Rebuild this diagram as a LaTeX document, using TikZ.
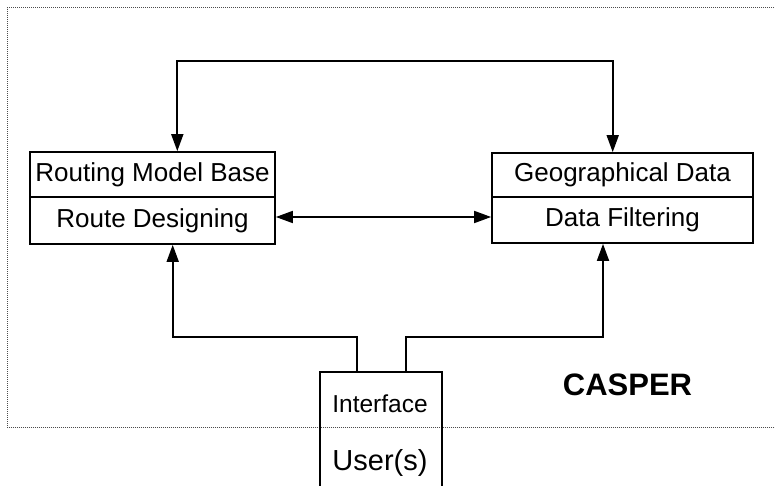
\documentclass[tikz,border=0pt]{standalone}
\usepackage{fontspec}
\setmainfont{Liberation Sans}
\usetikzlibrary{arrows.meta}

\tikzset{
  box/.style={draw, line width=1.7pt, rectangle, inner sep=0pt, align=center},
  leftbox/.style={box, minimum width=245pt},
  rightbox/.style={box, minimum width=261pt},
  boxtext/.style={font=\fontsize{26}{30}\selectfont},
  arr/.style={line width=1.7pt, -{Triangle[length=17pt,width=12pt]}},
  dbl/.style={line width=1.7pt, {Triangle[length=17pt,width=12pt]}-{Triangle[length=17pt,width=12pt]}},
  frame/.style={line width=1pt, densely dotted, black!70},
}

\begin{document}
\begin{tikzpicture}[x=1pt, y=-1pt]
  % page area
  \clip (0,0) rectangle (775,486);

  % dotted system boundary (open on the right)
  \draw[frame] (780,8) -- (7,8) -- (7,427.5) -- (780,427.5);

  % routing model box
  \node[leftbox, boxtext, minimum height=45pt] (rmb) at (152.5,174.5) {Routing Model Base};
  \node[leftbox, boxtext, minimum height=47pt] (rd) at (152.5,220.5) {Route Designing};

  % geographical data box
  \node[rightbox, boxtext, minimum height=44pt] (gd) at (622.5,175) {Geographical Data};
  \node[rightbox, boxtext, minimum height=46pt] (df) at (622.5,220) {Data Filtering};

  % interface / user box, running off the bottom of the page
  \node[box, minimum width=122pt, minimum height=150pt] (ui) at (381,447) {};
  \node[font=\fontsize{24.5}{28}\selectfont, anchor=base] (itf) at (380,412) {Interface};
  \node[font=\fontsize{29}{33}\selectfont, anchor=base] (usr) at (380,470) {User(s)};

  % system name
  \node[font=\bfseries\fontsize{31}{35}\selectfont, anchor=base] (casper) at (627.5,395) {CASPER};

  % bend points of the connectors
  \coordinate (tl) at (177.3,61);
  \coordinate (tr) at (612.7,61);
  \coordinate (hm) at (0,217);
  \coordinate (bl1) at (357,337);
  \coordinate (bl2) at (172.7,337);
  \coordinate (br1) at (406,337);
  \coordinate (br2) at (603,337);

  % model base <-> geographical data
  \draw[dbl] (rmb.north -| tl) -- (tl) -- (tr) -- (gd.north -| tr);

  % route designing <-> data filtering
  \draw[dbl] (rd.east |- hm) -- (df.west |- hm);

  % interface -> route designing
  \draw[arr] (ui.north -| bl1) -- (bl1) -- (bl2) -- (rd.south -| bl2);

  % interface -> data filtering
  \draw[arr] (ui.north -| br1) -- (br1) -- (br2) -- (df.south -| br2);
\end{tikzpicture}
\end{document}
